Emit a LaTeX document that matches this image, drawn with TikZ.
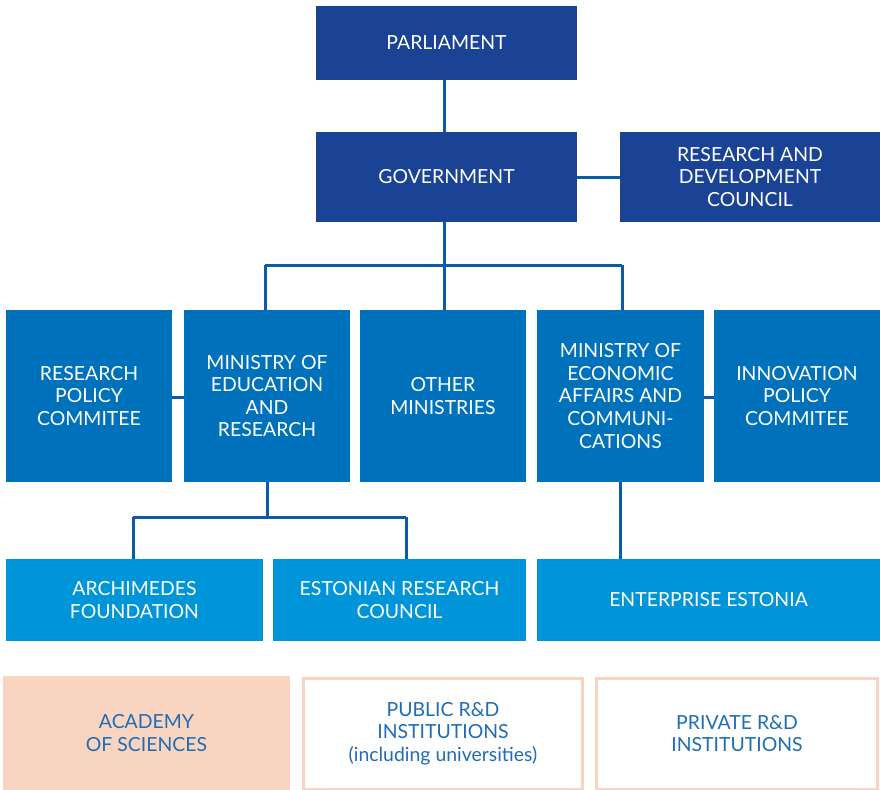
\documentclass[tikz,border=0pt]{standalone}
\usepackage{fontspec}
\setmainfont{Lato}
\definecolor{dark}{HTML}{1A4396}
\definecolor{mid}{HTML}{0072BC}
\definecolor{light}{HTML}{0095D8}
\definecolor{peach}{HTML}{F9D5C1}
\definecolor{linec}{HTML}{0B5CA8}
\definecolor{txtb}{HTML}{1F6DB5}
\begin{document}
\begin{tikzpicture}[x=1bp,y=-1bp,
  box/.style={inner sep=0pt, outer sep=0pt, align=center, text=white, font=\fontsize{19.5}{22.7}\selectfont},
  darkbox/.style={box, fill=dark},
  midbox/.style={box, fill=mid},
  lightbox/.style={box, fill=light},
  peachfill/.style={box, fill=peach, text=txtb},
  peachline/.style={box, fill=white, draw=peach, line width=3bp, text=txtb},
  conn/.style={draw=linec, line width=3bp}]
\useasboundingbox (0,0) rectangle (880,790);
% row 1-2
\node[darkbox, minimum width=261bp, minimum height=74bp] (parl) at (446.5,43) {PARLIAMENT};
\node[darkbox, minimum width=261bp, minimum height=90bp] (gov) at (446.5,177) {GOVERNMENT};
\node[darkbox, minimum width=260bp, minimum height=90bp] (rdc) at (750,177) {RESEARCH AND\\DEVELOPMENT\\COUNCIL};
% row 3
\node[midbox, minimum width=166bp, minimum height=172bp] (rpc) at (89,396) {RESEARCH\\POLICY\\COMMITEE};
\node[midbox, minimum width=166bp, minimum height=172bp] (mer) at (267,396) {MINISTRY OF\\EDUCATION\\AND\\RESEARCH};
\node[midbox, minimum width=166bp, minimum height=172bp] (om) at (443,396) {OTHER\\MINISTRIES};
\node[midbox, minimum width=167bp, minimum height=172bp] (meac) at (620.5,396) {MINISTRY OF\\ECONOMIC\\AFFAIRS AND\\COMMUNI-\\CATIONS};
\node[midbox, minimum width=166bp, minimum height=172bp] (ipc) at (797,396) {INNOVATION\\POLICY\\COMMITEE};
% row 4
\node[lightbox, minimum width=257bp, minimum height=82bp] (arch) at (134.5,600) {ARCHIMEDES\\FOUNDATION};
\node[lightbox, minimum width=253bp, minimum height=82bp] (erc) at (399.5,600) {ESTONIAN RESEARCH\\COUNCIL};
\node[lightbox, minimum width=343bp, minimum height=82bp] (ee) at (708.5,600) {ENTERPRISE ESTONIA};
% row 5
\node[peachfill, minimum width=287bp, minimum height=114bp] (acad) at (146.5,733) {ACADEMY\\OF SCIENCES};
\node[peachline, minimum width=279bp, minimum height=111bp] (pub) at (443,733.5) {PUBLIC R\&D\\INSTITUTIONS\\(including universities)};
\node[peachline, minimum width=281bp, minimum height=111bp] (priv) at (737,733.5) {PRIVATE R\&D\\INSTITUTIONS};
% connectors
\draw[conn] (parl.south -| 444,0) -- (gov.north -| 444,0);
\draw[conn] (gov.east) -- (rdc.west);
\coordinate (hubL) at (265,265);
\coordinate (hubR) at (622,265);
\draw[conn] (gov.south -| 444,0) -- (444,265);
\draw[conn] (hubL) -- (hubR);
\draw[conn] (hubL) -- (mer.north -| hubL);
\draw[conn] (444,265) -- (om.north -| 444,0);
\draw[conn] (hubR) -- (meac.north -| hubR);
\draw[conn] (rpc.east |- 0,397) -- (mer.west |- 0,397);
\draw[conn] (meac.east |- 0,397) -- (ipc.west |- 0,397);
\coordinate (sL) at (133,517);
\coordinate (sR) at (406,517);
\draw[conn] (mer.south -| 267,0) -- (267,517);
\draw[conn] (sL) -- (sR);
\draw[conn] (sL) -- (arch.north -| sL);
\draw[conn] (sR) -- (erc.north -| sR);
\draw[conn] (meac.south -| 620,0) -- (ee.north -| 620,0);
\end{tikzpicture}
\end{document}
